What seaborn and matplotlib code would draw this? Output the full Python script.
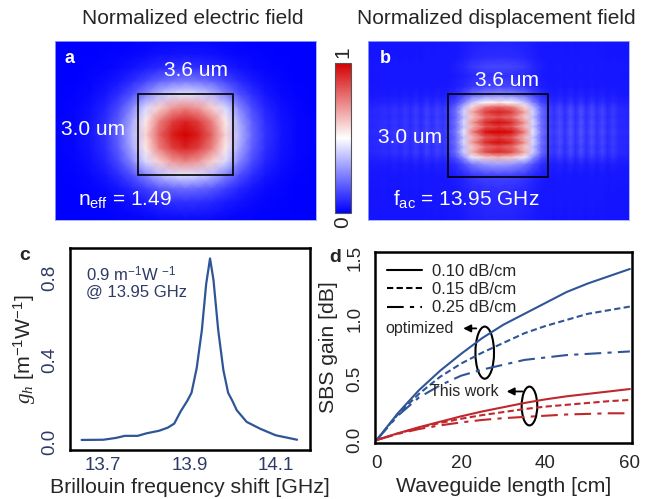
import numpy as np
import pandas as pd
import matplotlib
matplotlib.use('Agg')
import matplotlib.pyplot as plt
from matplotlib.colors import LinearSegmentedColormap
from matplotlib.patches import Rectangle, Ellipse
from matplotlib.lines import Line2D
import seaborn as sns

sns.set_style('white')
plt.rcParams['font.family'] = ['Liberation Sans', 'DejaVu Sans']
plt.rcParams['mathtext.fontset'] = 'custom'
plt.rcParams['mathtext.rm'] = 'Liberation Sans'
plt.rcParams['mathtext.it'] = 'Liberation Serif:italic'

# ---------------------------------------------------------------------------
# Data
# ---------------------------------------------------------------------------
# (a) electric field: profiles through the mode centre (positions in um)
ex_pos = [-4.9, -4.2, -3.6, -3.0, -2.5, -2.0, -1.5, -1.0, -0.5, 0.0,
          0.5, 1.0, 1.5, 2.0, 2.5, 3.0, 3.6, 4.2, 4.9]
ex_val = [0.005, 0.015, 0.04, 0.1, 0.2, 0.36, 0.58, 0.8, 0.94, 1.0,
          0.94, 0.8, 0.58, 0.36, 0.2, 0.1, 0.04, 0.015, 0.005]
ey_pos = [-3.2, -2.5, -2.0, -1.5, -1.0, -0.5, 0.0, 0.5, 1.0, 1.5, 2.0, 2.5, 3.0, 3.5]
ey_val = [0.02, 0.1, 0.22, 0.45, 0.74, 0.93, 1.0, 0.93, 0.74, 0.45, 0.24, 0.1, 0.04, 0.015]

# (b) displacement field: profiles through the acoustic mode (striped vertically)
bx_pos = [-4.9, -4.5, -4.3, -4.1, -3.9, -3.7, -3.5, -3.3, -3.1, -2.9, -2.7, -2.5,
          -2.3, -2.1, -1.9, -1.6, -1.3, -1.0, -0.5, 0.0, 0.5, 1.0, 1.3, 1.6, 1.9,
          2.1, 2.3, 2.5, 2.7, 2.9, 3.1, 3.3, 3.5, 3.7, 3.9, 4.1, 4.3, 4.5, 4.9]
bx_val = [0.04, 0.05, 0.06, 0.05, 0.07, 0.05, 0.08, 0.05, 0.09, 0.05, 0.1, 0.06,
          0.1, 0.07, 0.1, 0.2, 0.42, 0.7, 0.93, 1.0, 0.93, 0.7, 0.42, 0.2, 0.1,
          0.07, 0.12, 0.06, 0.13, 0.06, 0.13, 0.06, 0.12, 0.06, 0.11, 0.05, 0.09, 0.05, 0.04]
by_pos = [-3.2, -2.1, -1.5, -1.1, -0.85, -0.65, -0.45, -0.3, -0.1, 0.1, 0.3, 0.45,
          0.65, 0.85, 1.05, 1.2, 1.45, 1.8, 2.2, 2.55, 2.9, 3.5]
by_val = [0.03, 0.05, 0.1, 0.28, 0.6, 0.88, 0.8, 0.94, 0.84, 1.0, 0.84, 0.94,
          0.8, 0.9, 0.75, 0.5, 0.25, 0.1, 0.06, 0.1, 0.05, 0.03]
bg_level = 0.04

# (c) Brillouin gain spectrum
freq = [13.65, 13.70, 13.73, 13.75, 13.78, 13.80, 13.83, 13.85, 13.865, 13.88,
        13.895, 13.905, 13.917, 13.929, 13.939, 13.948, 13.956, 13.967, 13.979,
        13.99, 14.0, 14.01, 14.033, 14.064, 14.1, 14.15]
gain = [0.01, 0.011, 0.02, 0.03, 0.03, 0.042, 0.055, 0.07, 0.09, 0.15,
        0.2, 0.24, 0.36, 0.545, 0.77, 0.895, 0.79, 0.545, 0.35,
        0.24, 0.2, 0.155, 0.098, 0.065, 0.033, 0.011]

# (d) SBS gain vs waveguide length
length = [0, 5, 10, 15, 20, 25, 30, 35, 40, 45, 50, 55, 60]
opt_010 = [0, 0.22, 0.41, 0.57, 0.71, 0.84, 0.95, 1.04, 1.13, 1.22, 1.29, 1.35, 1.41]
opt_015 = [0, 0.21, 0.38, 0.52, 0.63, 0.72, 0.80, 0.88, 0.94, 0.99, 1.04, 1.07, 1.10]
opt_025 = [0, 0.20, 0.35, 0.45, 0.53, 0.58, 0.62, 0.66, 0.68, 0.70, 0.71, 0.72, 0.73]
tw_010 = [0, 0.055, 0.105, 0.15, 0.195, 0.235, 0.27, 0.305, 0.335, 0.36, 0.38, 0.40, 0.42]
tw_015 = [0, 0.053, 0.10, 0.14, 0.175, 0.205, 0.23, 0.255, 0.275, 0.29, 0.305, 0.32, 0.33]
tw_025 = [0, 0.05, 0.09, 0.12, 0.145, 0.165, 0.18, 0.19, 0.20, 0.21, 0.215, 0.22, 0.22]
loss_labels = ['0.10 dB/cm', '0.15 dB/cm', '0.25 dB/cm']

# ---------------------------------------------------------------------------
W, H = 649, 499
fig = plt.figure(figsize=(W / 100, H / 100), dpi=100)

def px_axes(x0, y0, x1, y1):
    return fig.add_axes([x0 / W, 1 - y1 / H, (x1 - x0) / W, (y1 - y0) / H])

field_cmap = LinearSegmentedColormap.from_list('field', ['#0000ff', '#ffffff', '#d40000'])
white = 'white'
fs_txt = 15

ax_a = px_axes(55, 41, 316, 220)
ax_b = px_axes(368, 41, 629, 220)
cax = px_axes(335, 63, 351, 213)
ax_c = px_axes(70, 248, 310, 450)
ax_d = px_axes(375, 252, 632, 443)

# --- (a) electric field
efield = np.outer(ey_val, ex_val)
mesh = ax_a.pcolormesh(ex_pos, ey_pos, efield, shading='gouraud', cmap=field_cmap,
                       vmin=0, vmax=1, rasterized=True)
ax_a.add_patch(Rectangle((-1.8, -1.52), 3.6, 3.04, fill=False, ec='black', lw=1.2))
ax_a.text(-4.34, 2.86, 'a', color=white, fontsize=13, fontweight='bold', ha='center', va='center')
ax_a.text(0.4, 2.41, '3.6 um', color=white, fontsize=fs_txt, ha='center', va='center')
ax_a.text(-3.47, 0.17, '3.0 um', color=white, fontsize=fs_txt, ha='center', va='center')
ax_a.text(-4.04, -2.45, r'n$_\mathregular{eff}$ = 1.49', color=white, fontsize=fs_txt,
          ha='left', va='center')

# --- (b) displacement field
dfield = np.outer(by_val, bx_val) + bg_level
ax_b.pcolormesh(bx_pos, by_pos, dfield, shading='gouraud', cmap=field_cmap,
                vmin=0, vmax=1, rasterized=True)
ax_b.add_patch(Rectangle((-1.9, -1.6), 3.75, 3.1, fill=False, ec='black', lw=1.2))
ax_b.text(-4.26, 2.86, 'b', color=white, fontsize=13, fontweight='bold', ha='center', va='center')
ax_b.text(0.33, 2.04, '3.6 um', color=white, fontsize=fs_txt, ha='center', va='center')
ax_b.text(-3.32, -0.13, '3.0 um', color=white, fontsize=fs_txt, ha='center', va='center')
ax_b.text(-1.22, -2.42, r'f$_\mathregular{ac}$ = 13.95 GHz', color=white, fontsize=fs_txt,
          ha='center', va='center')

for ax in (ax_a, ax_b):
    ax.set_xlim(-4.9, 4.9)
    ax.set_ylim(-3.2, 3.5)
    ax.set_xticks([])
    ax.set_yticks([])
    for s in ax.spines.values():
        s.set_color('#9aa6ff')
        s.set_linewidth(0.6)

# colour bar
cb = fig.colorbar(mesh, cax=cax)
cb.outline.set_linewidth(0.8)
cb.outline.set_edgecolor('#555555')
cax.set_yticks(np.arange(0.1, 1.0, 0.1))
cax.set_yticklabels([])
cax.tick_params(axis='y', direction='in', length=3, width=0.6, colors='#444444', right=True)
cax.text(0.5, 1.07, '1', rotation=90, fontsize=fs_txt, ha='center', va='center',
         transform=cax.transAxes)
cax.text(0.5, -0.06, '0', rotation=90, fontsize=fs_txt, ha='center', va='center',
         transform=cax.transAxes)

fig.text(193 / W, 1 - 18 / H, 'Normalized electric field', fontsize=15, ha='center', va='center')
fig.text(496 / W, 1 - 18 / H, 'Normalized displacement field', fontsize=15, ha='center', va='center')

# --- (c) gain spectrum
navy = '#2d3a66'
curve_blue = '#2f5597'
sns.lineplot(x=freq, y=gain, ax=ax_c, color=curve_blue, lw=1.6)
ax_c.set_xlim(13.623, 14.18)
ax_c.set_ylim(-0.039, 0.946)
ax_c.set_xticks([13.7, 13.9, 14.1])
ax_c.set_xticklabels(['13.7', '13.9', '14.1'])
ax_c.set_yticks([0.0, 0.4, 0.8])
ax_c.set_yticklabels(['0.0', '0.4', '0.8'], rotation=90, va='center')
ax_c.tick_params(axis='both', labelsize=13.5, labelcolor=navy, length=5, width=1.2, direction='out')
ax_c.tick_params(axis='x', length=0, pad=5)
ax_c.set_xlabel('Brillouin frequency shift [GHz]', fontsize=15.3, labelpad=3)
ax_c.set_ylabel(r'$g_h$ [m$^{-1}$W$^{-1}$]', fontsize=15.3, labelpad=2)
ax_c.text(13.66, 0.86, '0.9 m$^{-1}$W $^{-1}$\n@ 13.95 GHz', fontsize=12, color=navy,
          ha='left', va='top', linespacing=1.0)

# --- (d) SBS gain vs length
red = '#c0282d'
dash_styles = ['-', (0, (3.0, 1.6)), (0, (8, 3, 2, 3))]
opt_sets = [opt_010, opt_015, opt_025]
tw_sets = [tw_010, tw_015, tw_025]
for ls, opt, tw in zip(dash_styles, opt_sets, tw_sets):
    sns.lineplot(x=length, y=opt, ax=ax_d, color=curve_blue, lw=1.5, linestyle=ls)
    sns.lineplot(x=length, y=tw, ax=ax_d, color=red, lw=1.5, linestyle=ls)

ax_d.set_xlim(-0.4, 60.5)
ax_d.set_ylim(-0.025, 1.55)
ax_d.set_xticks([0, 10, 20, 30, 40, 50, 60])
ax_d.set_xticklabels(['0', '', '20', '', '40', '', '60'])
ax_d.set_yticks([0.0, 0.5, 1.0, 1.5])
ax_d.set_yticklabels(['0.0', '0.5', '1.0', '1.5'], rotation=90, va='center')
ax_d.tick_params(axis='both', labelsize=13.5, width=1.2)
ax_d.tick_params(axis='x', direction='in', length=5, pad=9)
ax_d.tick_params(axis='y', direction='out', length=5)
ax_d.set_xlabel('Waveguide length [cm]', fontsize=15.3, labelpad=3)
ax_d.set_ylabel('SBS gain [dB]', fontsize=15.3, labelpad=6)

handles = [Line2D([], [], color='black', lw=1.5, linestyle=ls) for ls in dash_styles]
ax_d.legend(handles, loss_labels, loc='upper left', frameon=False, fontsize=12,
            handlelength=2.1, handletextpad=0.6, labelspacing=0.2,
            borderaxespad=0.3, bbox_to_anchor=(0.0, 1.0))

ax_d.add_patch(Ellipse((25.6, 0.72), 4.4, 0.43, fill=False, ec='black', lw=1.5))
ax_d.add_patch(Ellipse((36.2, 0.28), 3.7, 0.32, fill=False, ec='black', lw=1.5))
ax_d.annotate('', xy=(20.5, 0.92), xytext=(23.6, 0.92),
              arrowprops=dict(arrowstyle='-|>', color='black', lw=1.3, mutation_scale=11,
                              shrinkA=0, shrinkB=0))
ax_d.annotate('', xy=(30.8, 0.40), xytext=(34.6, 0.40),
              arrowprops=dict(arrowstyle='-|>', color='black', lw=1.3, mutation_scale=11,
                              shrinkA=0, shrinkB=0))
ax_d.text(2.0, 0.92, 'optimized', fontsize=11.5, ha='left', va='center')
ax_d.text(12.6, 0.40, 'This work', fontsize=11.5, ha='left', va='center')

for ax in (ax_c, ax_d):
    for s in ax.spines.values():
        s.set_color('black')
        s.set_linewidth(1.8)

fig.text(25 / W, 1 - 255 / H, 'c', fontsize=14, fontweight='bold', ha='center', va='center')
fig.text(335 / W, 1 - 258 / H, 'd', fontsize=14, fontweight='bold', ha='center', va='center')

fig.savefig('out.png', dpi=100)
